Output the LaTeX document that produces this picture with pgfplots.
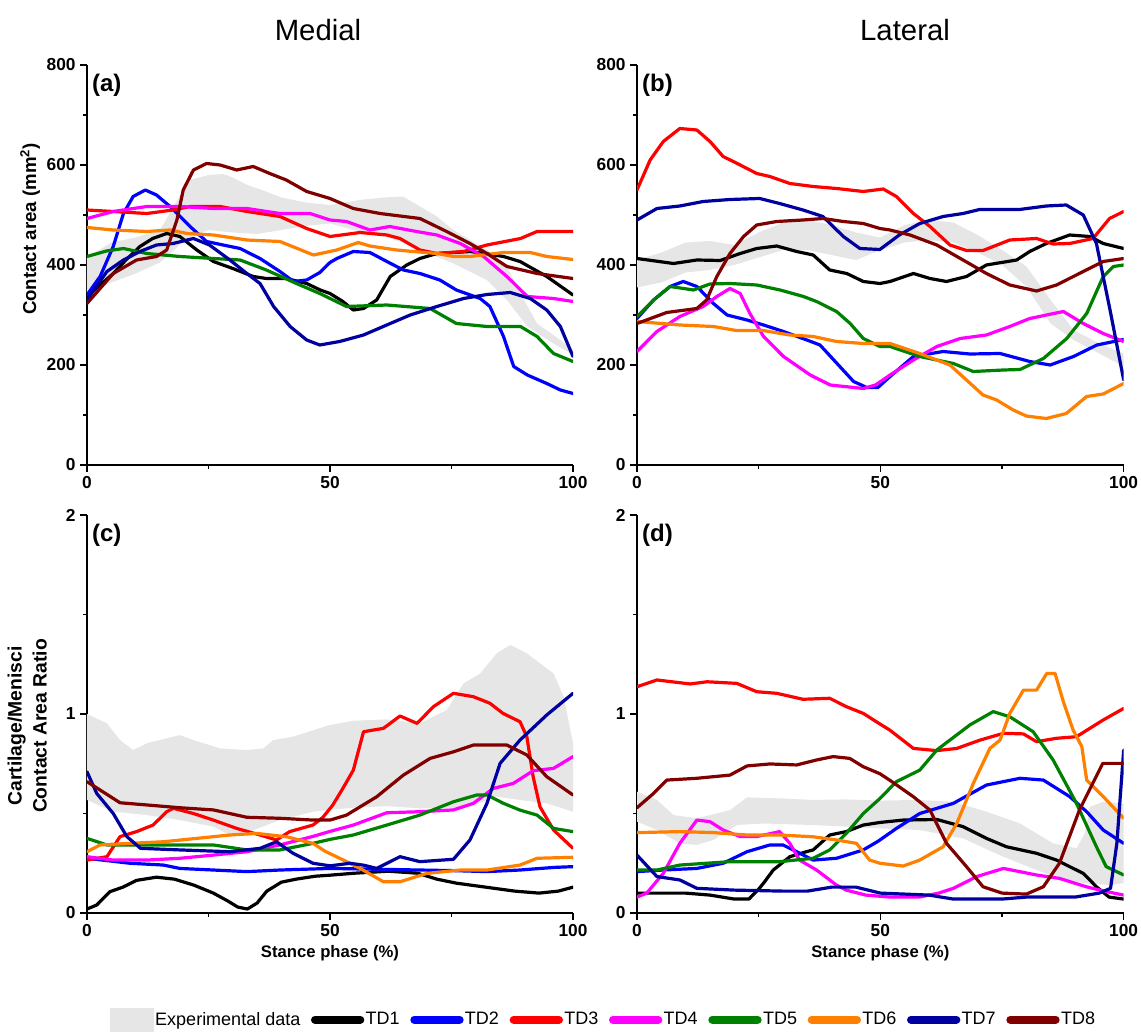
\documentclass[border=0pt]{standalone}
\usepackage{pgfplots}
\pgfplotsset{compat=1.18}
\usepackage{fontspec}
\setmainfont{Liberation Sans}
\definecolor{tdnavy}{RGB}{0,0,160}
\definecolor{tdmaroon}{RGB}{128,0,0}
\definecolor{tdorange}{RGB}{255,128,0}
\definecolor{tdgreen}{RGB}{0,128,0}
\definecolor{tdmag}{RGB}{255,0,255}
\definecolor{tdblue}{RGB}{0,0,255}
\definecolor{tdred}{RGB}{255,0,0}
\definecolor{bandgray}{RGB}{230,230,230}
\pgfplotsset{
 panel/.style={
  scale only axis, width=364.5pt, height=300pt,
  axis lines=left, axis line style={-, line width=1.2pt},
  enlargelimits=false,
  xmin=0, xmax=100, xtick={0,50,100}, minor x tick num=1,
  tick align=outside, major tick length=5pt, minor tick length=3pt,
  every tick/.style={line width=1pt, black},
  tick label style={font=\fontsize{13}{15}\selectfont\bfseries},
  /pgf/number format/assume math mode=true,
  label style={font=\fontsize{12.5}{15}\selectfont\bfseries},
 },
 tdline/.style={line width=2.4pt, line join=round, line cap=round},
 band/.style={fill=bandgray, draw=none},
}
\newcommand{\plab}[1]{\node[anchor=north west, font=\fontsize{18}{20}\selectfont\bfseries, inner sep=0pt] at (rel axis cs:0.010,0.978) {#1};}
\begin{document}
\begin{tikzpicture}
\useasboundingbox (0,0) rectangle (855.75pt,774.75pt);
\node[font=\fontsize{22}{25}\selectfont] at (238.5pt,752pt) {Medial};
\node[font=\fontsize{22}{25}\selectfont] at (678.75pt,752pt) {Lateral};

% ---------------- (a)
\begin{axis}[panel, at={(65.25pt,426pt)}, anchor=south west,
  ymin=0, ymax=800, ytick={0,200,400,600,800}, minor y tick num=1,
  ylabel={Contact area (mm\textsuperscript{2})},
  ylabel style={at={(axis description cs:-0.117,0.59)}, anchor=center, font=\fontsize{14}{17}\selectfont\bfseries}]
\addplot[band] coordinates {(0,415)(5,445)(10,455)(15,470)(18,520)(21,570)(25,580)(28,582)(30,575)(33,560)(36,550)(40,535)(45,525)(50,520)(56,530)(61,535)(65,537)(68.5,517)(72,497)(75.4,470)(82.3,430)(86.4,397)(89.2,343)(92.6,283)(97.4,250)(100,230)
 (100,220)(96,243)(90.6,277)(86.4,330)(82.3,370)(75.4,403)(68.5,430)(61.7,457)(54.8,470)(50,483)(45,478)(40,470)(35,462)(30,465)(25,470)(20,450)(18,430)(15,405)(10,383)(5,365)(0,343)} -- cycle;
\addplot[tdline, black] coordinates {(0,337)(2.7,360)(5.4,383)(8,410)(10.9,437)(13.5,453)(16.4,463)(19.1,457)(22.6,430)(26,407)(30,393)(34.2,377)(36.9,373)(41,373)(45.2,363)(48,350)(50,343)(52.5,328)(54.8,310)(56.9,313)(59.6,330)(62.4,377)(65.8,400)(68.5,413)(72,423)(78.9,427)(85.7,417)(89.1,407)(94.6,377)(100,340)};
\addplot[tdline, tdblue] coordinates {(0,340)(2.7,377)(5.4,437)(7.5,503)(9.5,537)(12,550)(14.3,540)(17.1,517)(21.2,477)(24.6,447)(28,440)(31.5,433)(35.6,413)(39.7,387)(42.5,367)(45.2,370)(47.9,385)(50,405)(51.4,413)(54.8,427)(58.2,425)(61.7,407)(65.1,390)(68.5,383)(72.6,370)(76,350)(80.9,333)(82.9,317)(85.7,257)(87.8,197)(90.6,180)(94.6,163)(97.4,150)(100,143)};
\addplot[tdline, tdred] coordinates {(0,510)(5.4,507)(12.3,503)(17.7,510)(21.2,517)(27.4,517)(32.9,507)(39.7,497)(45.2,473)(50,457)(56.2,465)(61.7,460)(64.4,453)(68.5,430)(72,423)(77.5,427)(82.3,440)(89.2,453)(92.6,467)(100,467)};
\addplot[tdline, tdmag] coordinates {(0,493)(5.4,507)(12.3,517)(19.1,517)(26,513)(32.9,513)(39.7,503)(45.9,503)(50,490)(53.4,487)(58.2,470)(62.3,477)(67.8,467)(72,460)(76.8,443)(81.6,417)(86.4,377)(90.6,337)(96,333)(100,327)};
\addplot[tdline, tdgreen] coordinates {(0,417)(4,428)(7.5,433)(12.3,423)(19.1,417)(26,413)(31.5,410)(36.9,390)(43.1,363)(47.9,343)(53.4,317)(61.7,320)(70.6,313)(76,283)(82.3,277)(89.2,277)(92.6,257)(96,223)(100,207)};
\addplot[tdline, tdorange] coordinates {(0,475)(5.4,470)(12.3,467)(17.1,470)(20.6,463)(26,460)(32.9,450)(39.7,447)(46.6,420)(51.4,430)(55.8,445)(58.2,438)(63.7,430)(67.1,427)(72,423)(75.4,417)(78.9,417)(85.7,425)(91.2,425)(94.6,417)(100,411)};
\addplot[tdline, tdnavy] coordinates {(0,330)(4.1,387)(7.5,410)(10.9,427)(14.3,440)(17.7,443)(21.9,453)(25.2,440)(29.4,410)(32.9,383)(35.6,363)(38.4,317)(41.8,277)(45.2,250)(47.9,240)(52,247)(56.9,260)(62.4,283)(66.5,300)(72,317)(77.5,333)(82.3,341)(87.1,345)(91.2,333)(94.6,310)(97.4,277)(100,217)};
\addplot[tdline, tdmaroon] coordinates {(0,323)(5.4,383)(10.2,410)(14.3,417)(16.4,430)(18.5,490)(19.8,550)(21.9,590)(24.6,603)(27.4,600)(30.8,590)(34.2,597)(37.6,583)(41,570)(45.2,547)(50,533)(54.8,513)(60.3,503)(68.5,493)(74,467)(78.8,443)(82.3,423)(86.4,397)(92.6,383)(100,373)};
\plab{(a)}
\end{axis}

% ---------------- (b)
\begin{axis}[panel, at={(477.75pt,426pt)}, anchor=south west, width=365pt,
  ymin=0, ymax=800, ytick={0,200,400,600,800}, minor y tick num=1]
\addplot[band] coordinates {(0,410)(5,425)(10,445)(15,448)(20,440)(25,465)(30,485)(35,490)(40,480)(45,465)(50,455)(55,480)(60,490)(65,485)(70,460)(75,430)(80,397)(85,330)(89.7,270)(95,243)(100,223)
 (100,197)(95,223)(89.7,250)(85,283)(80,357)(75,400)(70,425)(65,445)(60,450)(55,445)(50,430)(45,410)(40,420)(35,430)(30,430)(25,415)(20,400)(15,390)(10,385)(5,365)(0,355)} -- cycle;
\addplot[tdline, black] coordinates {(0,413)(7.5,403)(12.3,410)(17.1,409)(21.2,423)(24.6,433)(28.7,438)(32.8,427)(36.2,420)(39.6,390)(43.1,383)(46.5,367)(49.9,363)(52,367)(56.8,383)(60.2,373)(63.6,367)(67.7,377)(71.8,400)(78,410)(80.7,427)(84.1,443)(88.9,460)(93,457)(95.8,443)(100,433)};
\addplot[tdline, tdblue] coordinates {(0,293)(3.4,330)(6.8,357)(9.5,367)(12.3,357)(15.7,323)(18.5,300)(22.6,290)(26,280)(30.1,267)(34.9,250)(37.6,240)(41.1,203)(44.5,167)(47.2,155)(49.5,155)(52,177)(56.8,217)(62.9,227)(68.4,222)(74.6,223)(80.7,207)(84.9,200)(89.7,217)(94.5,240)(100,251)};
\addplot[tdline, tdred] coordinates {(0,550)(2.7,610)(5.4,647)(8.8,673)(12.3,670)(15,647)(17.7,617)(21.2,600)(24.6,583)(27.3,577)(31.4,563)(36.2,557)(41,553)(46.5,547)(50.6,552)(53.3,537)(56.8,503)(60.2,477)(64.3,440)(67.7,429)(71.1,429)(76.6,450)(82.1,453)(85.5,442)(88.9,443)(93.7,453)(97.1,493)(100,507)};
\addplot[tdline, tdmag] coordinates {(0,227)(4.1,267)(8.8,297)(13.6,317)(16.4,337)(19.1,353)(21.2,343)(23.2,303)(26,257)(30.1,217)(35.6,180)(39.7,160)(46.5,153)(49,160)(52,180)(56.8,210)(61.6,237)(66.4,253)(71.8,260)(76.6,277)(80.7,293)(87.6,307)(91.7,283)(95.8,263)(100,247)};
\addplot[tdline, tdgreen] coordinates {(0,297)(3.4,330)(6.8,357)(11.6,350)(15,362)(19.1,363)(24.6,360)(29.4,350)(34.2,337)(36.9,327)(41,307)(43.8,283)(46.5,253)(49.9,237)(52,237)(58.1,217)(65,203)(69.1,187)(75.3,190)(78.7,191)(83.5,213)(88.3,253)(92.4,303)(95.8,377)(97.9,397)(100,400)};
\addplot[tdline, tdorange] coordinates {(0,287)(8.8,280)(15.7,277)(20.4,269)(25.9,269)(31.4,260)(36.2,257)(41,247)(46.5,243)(52,243)(58.1,223)(64.3,200)(67.7,170)(71.1,140)(73.9,130)(77.3,110)(80,98)(84.1,93)(88.2,103)(92.4,137)(95.8,142)(100,163)};
\addplot[tdline, tdnavy] coordinates {(0,490)(4.1,513)(8.8,518)(13.6,527)(19.1,531)(25.2,533)(29.3,523)(34.1,510)(38.2,497)(42.4,457)(45.8,433)(49.9,431)(53.9,460)(58.1,483)(62.9,497)(67,503)(70.4,511)(78.6,511)(84.1,518)(88.2,520)(91.7,500)(94.4,443)(97.2,310)(100,170)};
\addplot[tdline, tdmaroon] coordinates {(0,283)(6.1,305)(12.3,313)(14.3,330)(16.4,377)(19.1,423)(21.9,457)(24.6,480)(28.7,487)(34.1,490)(38.2,493)(42.4,487)(46.5,483)(49.9,473)(52,470)(56.1,460)(61.6,440)(67,410)(71.8,383)(76.6,360)(82.1,348)(86.2,360)(91.7,387)(95.8,407)(100,413)};
\plab{(b)}
\end{axis}

% ---------------- (c)
\begin{axis}[panel, at={(65.25pt,90pt)}, anchor=south west, height=298.5pt,
  ymin=0, ymax=2, ytick={0,1,2}, minor y tick num=1,
  ylabel={Cartilage/Menisci\\Contact Area Ratio},
  ylabel style={at={(axis description cs:-0.123,0.47)}, anchor=center, align=center, font=\fontsize{14.5}{18.75}\selectfont\bfseries},
  xlabel={Stance phase (\%)},
  legend style={at={(axis description cs:1.062,-0.268)}, anchor=center, draw=none, fill=none,
    legend columns=9, font=\fontsize{13.5}{15}\selectfont, nodes={inner sep=1pt},
    /tikz/every even column/.append style={column sep=7pt}},
  legend image code/.code={\draw[#1, line width=6pt, line cap=round] (3pt,0pt) -- (37pt,0pt);}]
\addplot[band, legend image code/.code={\fill[bandgray] (0pt,-9pt) rectangle (33pt,9pt);}] coordinates {(0,1.0)(4.1,0.953)(6.8,0.869)(9.5,0.819)(12.3,0.853)(15,0.869)(19.1,0.894)(21.9,0.869)(27.4,0.827)(32.9,0.819)(36.3,0.827)(38.3,0.869)(42.4,0.886)(46.6,0.919)(50,0.945)(54.8,0.966)(61.7,0.973)(68.5,0.953)(74,1.02)(77.5,1.154)(80.9,1.204)(84.3,1.305)(87.1,1.347)(90.5,1.305)(96,1.204)(98.1,1.087)(100,0.852)
 (100,0.509)(94.6,0.551)(89.1,0.568)(84.3,0.585)(78.8,0.534)(75.4,0.526)(68.5,0.526)(61.7,0.537)(54.8,0.529)(50,0.518)(46.5,0.509)(39.7,0.467)(34.3,0.417)(29.4,0.392)(26,0.434)(19.1,0.467)(12.3,0.492)(5.4,0.509)(0,0.568)} -- cycle;
\addlegendentry{Experimental data}
\addplot[tdline, black] coordinates {(0,0.02)(2,0.04)(4.7,0.107)(7.5,0.131)(10.2,0.164)(14.3,0.18)(18,0.17)(22,0.14)(26,0.10)(29,0.06)(31,0.03)(33,0.02)(35,0.05)(37,0.11)(40,0.155)(43,0.17)(47,0.185)(50,0.19)(55,0.2)(62,0.21)(68,0.2)(72,0.17)(76,0.15)(82,0.13)(88,0.11)(93,0.1)(97,0.11)(100,0.13)};
\addlegendentry{TD1}
\addplot[tdline, tdblue] coordinates {(0,0.275)(8.8,0.25)(15.7,0.241)(19.1,0.224)(26,0.216)(32.9,0.208)(39.7,0.216)(50,0.224)(61.7,0.219)(68.5,0.216)(75.4,0.213)(82.3,0.208)(89.1,0.216)(96,0.229)(100,0.233)};
\addlegendentry{TD2}
\addplot[tdline, tdred] coordinates {(0,0.266)(4.1,0.283)(6.8,0.384)(10.2,0.409)(13.6,0.442)(16.4,0.509)(17.8,0.526)(21.9,0.5)(26,0.467)(30.8,0.425)(35.6,0.392)(39,0.367)(41.7,0.409)(46.5,0.442)(48.5,0.48)(50.5,0.54)(52.5,0.62)(54.8,0.718)(56.9,0.911)(61,0.928)(64.4,0.99)(67.9,0.953)(71.3,1.037)(75.4,1.104)(79.5,1.087)(82.9,1.054)(85.6,1.003)(89.1,0.961)(90.5,0.886)(91.8,0.685)(93.2,0.534)(96,0.417)(100,0.325)};
\addlegendentry{TD3}
\addplot[tdline, tdmag] coordinates {(0,0.283)(5.4,0.266)(12.3,0.266)(19.1,0.275)(26,0.291)(32.9,0.308)(39.7,0.342)(46.5,0.385)(50,0.41)(54.8,0.442)(61.7,0.504)(68.5,0.509)(75.4,0.518)(79.5,0.551)(83.6,0.626)(87.7,0.651)(91.8,0.715)(96,0.727)(100,0.786)};
\addlegendentry{TD4}
\addplot[tdline, tdgreen] coordinates {(0,0.375)(4.1,0.342)(12.3,0.342)(19.1,0.342)(26,0.342)(32.9,0.317)(39.7,0.317)(46.5,0.35)(50,0.37)(54.8,0.392)(61.7,0.442)(68.5,0.492)(75.4,0.559)(80.2,0.593)(82.3,0.593)(85.7,0.551)(89.1,0.517)(92.6,0.492)(96,0.425)(100,0.409)};
\addlegendentry{TD5}
\addplot[tdline, tdorange] coordinates {(0,0.308)(2.7,0.342)(8.8,0.35)(15.7,0.358)(22.6,0.375)(29.4,0.392)(34.9,0.4)(41.1,0.383)(46.5,0.35)(49,0.31)(52,0.275)(56.2,0.224)(61,0.157)(64.4,0.157)(69.9,0.199)(76.8,0.216)(82.3,0.216)(89.1,0.241)(92.6,0.275)(100,0.28)};
\addlegendentry{TD6}
\addplot[tdline, tdnavy] coordinates {(0,0.71)(2,0.601)(5.4,0.5)(8.2,0.384)(11,0.325)(19.1,0.317)(29.4,0.308)(35.6,0.325)(39,0.358)(42.4,0.3)(46.5,0.25)(50,0.237)(54.1,0.25)(57,0.24)(59.6,0.224)(64.4,0.283)(68.5,0.258)(75.4,0.27)(78.8,0.367)(82.3,0.551)(85,0.752)(89.1,0.869)(94.6,0.995)(100,1.104)};
\addlegendentry{TD7}
\addplot[tdline, tdmaroon] coordinates {(0,0.66)(6.8,0.554)(12.3,0.543)(19.1,0.529)(26,0.518)(32.9,0.481)(39.7,0.476)(46.5,0.467)(50,0.467)(53.4,0.492)(59.6,0.584)(65.1,0.693)(70.6,0.777)(75.4,0.81)(79.5,0.844)(86.4,0.844)(90.5,0.794)(94.6,0.685)(100,0.593)};
\addlegendentry{TD8}
\plab{(c)}
\end{axis}

% ---------------- (d)
\begin{axis}[panel, at={(477.75pt,90pt)}, anchor=south west, width=365pt, height=298.5pt,
  ymin=0, ymax=2, ytick={0,1,2}, minor y tick num=1,
  xlabel={Stance phase (\%)}]
\addplot[band] coordinates {(0,0.61)(4.1,0.568)(7.5,0.492)(12.3,0.476)(19.1,0.517)(22.6,0.581)(29.4,0.576)(36.2,0.568)(43,0.571)(49.9,0.565)(58.1,0.568)(65,0.559)(71.8,0.509)(78.7,0.45)(85.5,0.35)(90.3,0.325)(92,0.4)(93.1,0.534)(95.8,0.559)(100,0.551)
 (100,0.15)(97.2,0.14)(92.4,0.149)(87.6,0.166)(82.1,0.216)(75.2,0.283)(67,0.375)(58.1,0.417)(49.9,0.425)(43,0.434)(36.2,0.442)(26,0.45)(20.5,0.442)(15.7,0.367)(12.3,0.342)(8.8,0.35)(4.1,0.417)(0,0.459)} -- cycle;
\addplot[tdline, black] coordinates {(0,0.1)(5,0.1)(10,0.1)(15,0.09)(20,0.07)(23,0.07)(25,0.12)(26,0.15)(28,0.216)(31.4,0.283)(34.8,0.308)(36.2,0.317)(39.6,0.392)(43,0.409)(46.5,0.442)(49.9,0.455)(54.7,0.467)(61.6,0.47)(67,0.434)(71.8,0.375)(75.9,0.333)(82.1,0.3)(86.2,0.266)(88.9,0.233)(91.7,0.199)(94.4,0.132)(97,0.08)(100,0.07)};
\addplot[tdline, tdblue] coordinates {(0,0.208)(5.4,0.216)(12.3,0.224)(17.7,0.25)(22.6,0.308)(27.3,0.342)(30,0.342)(32.8,0.308)(36.2,0.266)(41,0.275)(46.5,0.317)(49.5,0.36)(53.3,0.425)(58.1,0.5)(65,0.551)(71.8,0.643)(78.7,0.677)(83.5,0.668)(88.9,0.585)(92.4,0.509)(95.8,0.417)(100,0.35)};
\addplot[tdline, tdred] coordinates {(0,1.137)(4.1,1.171)(10.9,1.151)(14.4,1.162)(20.5,1.154)(24.6,1.112)(28.7,1.104)(34.1,1.074)(39.6,1.079)(43,1.037)(46.5,1.003)(49.9,0.95)(51.9,0.92)(56.8,0.827)(61.6,0.816)(65.7,0.827)(70.5,0.869)(75.3,0.903)(79.4,0.9)(82.1,0.861)(86.2,0.878)(90.3,0.886)(95.8,0.97)(100,1.028)};
\addplot[tdline, tdmag] coordinates {(0,0.08)(2,0.1)(5.4,0.199)(8.8,0.35)(12.3,0.467)(15,0.459)(17.7,0.417)(21.2,0.384)(24.6,0.384)(29.3,0.409)(31.4,0.35)(33.4,0.266)(36.9,0.216)(41,0.14)(43,0.115)(47,0.09)(52,0.08)(58,0.08)(62,0.1)(65,0.124)(69.8,0.183)(75.3,0.224)(82.1,0.191)(86.8,0.174)(92.3,0.132)(96,0.11)(100,0.09)};
\addplot[tdline, tdgreen] coordinates {(0,0.216)(4.1,0.216)(8.8,0.241)(19.1,0.258)(29.3,0.258)(36.2,0.275)(39.6,0.317)(43,0.4)(46.5,0.5)(49.9,0.575)(53.3,0.66)(58.1,0.718)(61.6,0.819)(68.4,0.945)(73.2,1.012)(76.6,0.986)(81.4,0.911)(85.5,0.769)(90.3,0.551)(94.4,0.333)(96.4,0.233)(100,0.191)};
\addplot[tdline, tdorange] coordinates {(0,0.404)(8.8,0.409)(15.7,0.404)(22.6,0.392)(29.3,0.392)(36.2,0.383)(41,0.367)(45.1,0.35)(47.8,0.266)(49.9,0.25)(54.7,0.236)(58.1,0.266)(62.9,0.333)(65.7,0.45)(69.1,0.651)(72.5,0.827)(74.6,0.869)(76.6,1.003)(79.4,1.12)(82.1,1.12)(84.2,1.204)(85.9,1.204)(87.6,1.062)(89.6,0.92)(91.4,0.836)(92.4,0.668)(95.8,0.585)(100,0.476)};
\addplot[tdline, tdnavy] coordinates {(0,0.291)(4.1,0.183)(8.8,0.166)(12.3,0.124)(20,0.115)(30,0.11)(35,0.11)(40,0.13)(45,0.13)(50,0.1)(60,0.09)(65,0.07)(75,0.07)(80,0.08)(90,0.08)(95,0.1)(97.3,0.124)(98.6,0.35)(100,0.819)};
\addplot[tdline, tdmaroon] coordinates {(0,0.529)(3.4,0.601)(6.1,0.668)(12.3,0.677)(19.1,0.693)(22.6,0.739)(27.3,0.749)(32.8,0.744)(36.9,0.769)(40.3,0.786)(43.7,0.777)(46.5,0.735)(49.9,0.7)(51.9,0.668)(56.8,0.584)(60.2,0.517)(63.6,0.35)(67.7,0.233)(71.1,0.132)(75,0.1)(80,0.095)(83.5,0.132)(86.8,0.25)(90.9,0.517)(95.7,0.752)(100,0.752)};
\plab{(d)}
\end{axis}
\end{tikzpicture}
\end{document}
